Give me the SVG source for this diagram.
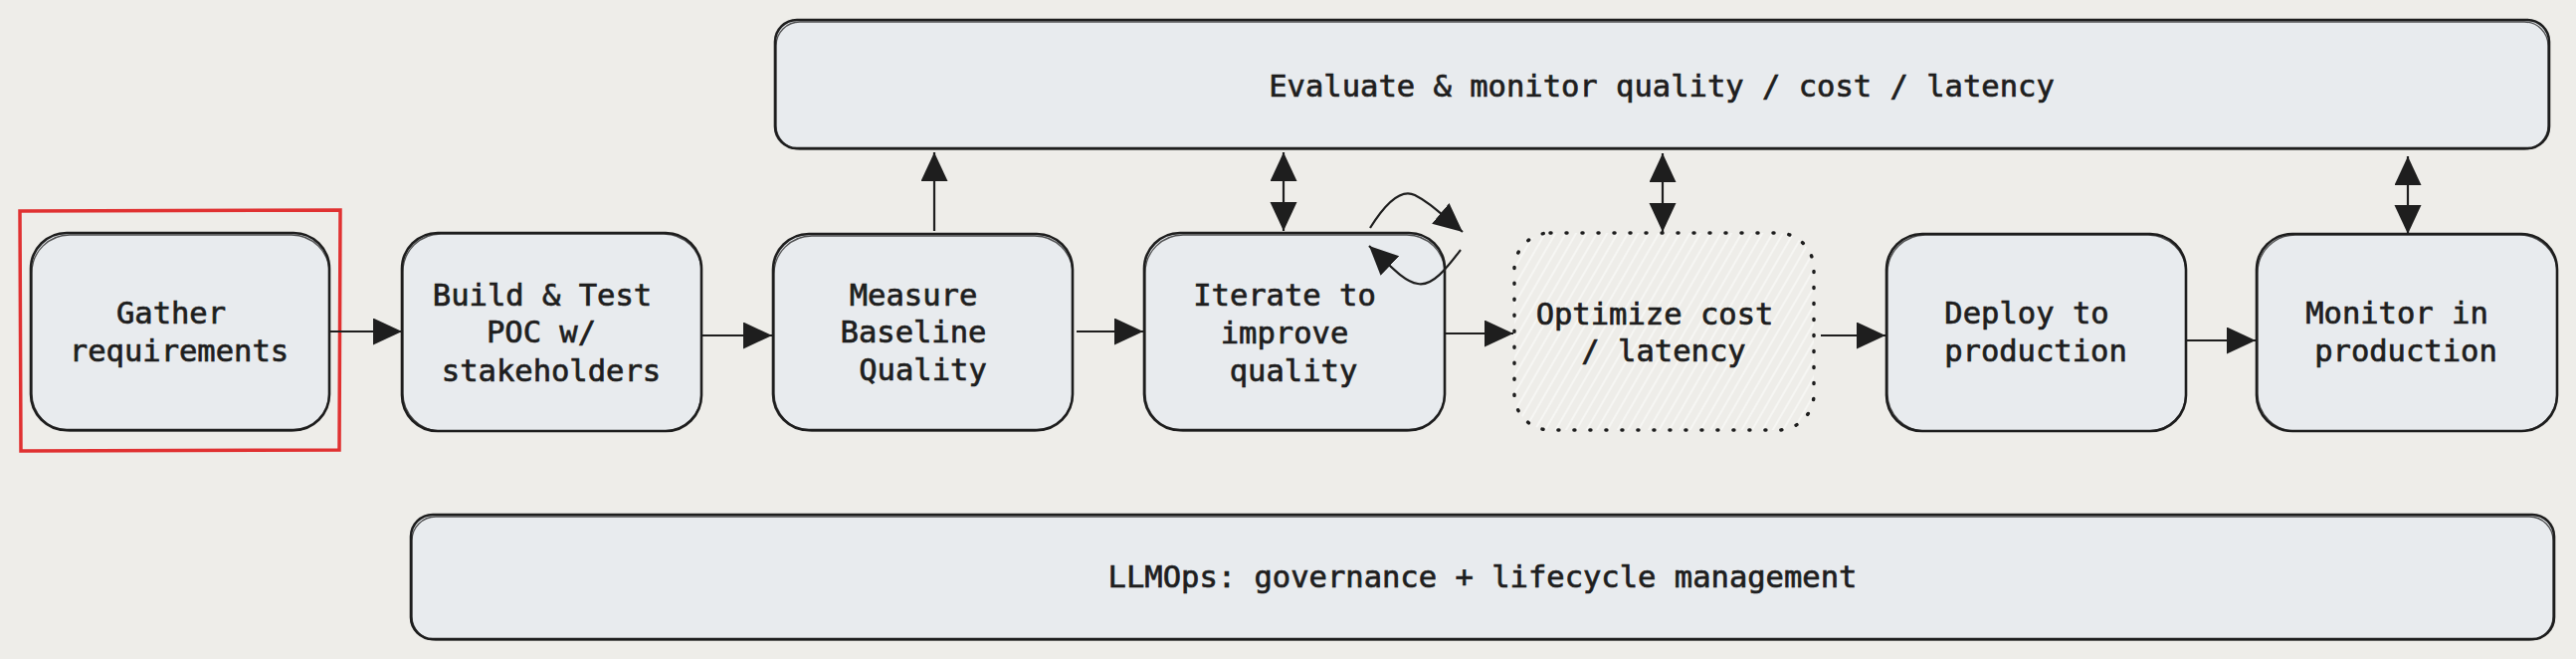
<svg xmlns="http://www.w3.org/2000/svg" width="2589" height="662" viewBox="0 0 2589 662">
<defs>
<style>
.box{fill:#e8ebee;stroke:#1e1e1e;stroke-width:2.6}
.box2{fill:none;stroke:#1e1e1e;stroke-width:1.3;opacity:0.75}
.lbl{font-family:"DejaVu Sans Mono","Liberation Mono",monospace;font-size:30.5px;fill:#1e1e1e;stroke:#1e1e1e;stroke-width:0.7;text-anchor:middle}
.ln{fill:none;stroke:#1e1e1e;stroke-width:2.2}
.arr{marker-end:url(#ah)}
.arr2{marker-start:url(#ahs);marker-end:url(#ah)}
</style>
<marker id="ah" markerUnits="userSpaceOnUse" markerWidth="30" markerHeight="28" refX="29" refY="13.5" orient="auto" viewBox="0 0 30 28">
<path d="M0,0 L29,13.5 L0,27 z" fill="#1e1e1e"/>
</marker>
<marker id="ahs" markerUnits="userSpaceOnUse" markerWidth="30" markerHeight="28" refX="29" refY="13.5" orient="auto-start-reverse" viewBox="0 0 30 28">
<path d="M0,0 L29,13.5 L0,27 z" fill="#1e1e1e"/>
</marker>
<pattern id="hatch" patternUnits="userSpaceOnUse" width="9" height="9" patternTransform="rotate(30)">
<line x1="4" y1="0" x2="4" y2="9" stroke="#fbfbf9" stroke-width="1.3"/>
</pattern>
</defs>
<rect x="0" y="0" width="2589" height="662" fill="#eeede9"/>

<g id="evaluate">
<rect class="box" x="779" y="20" width="1783" height="129" rx="22"/>
<rect class="box2" x="780" y="22" width="1781" height="128" rx="24"/>
<text class="lbl" x="1670" y="97">Evaluate &amp; monitor quality / cost / latency</text>
</g>

<g id="llmops">
<rect class="box" x="413" y="517" width="2154" height="125" rx="22"/>
<rect class="box2" x="414" y="519" width="2152" height="124" rx="24"/>
<text class="lbl" x="1490" y="590">LLMOps: governance + lifecycle management</text>
</g>

<g id="highlight">
<path d="M20,212 L342,211 L341,452 L21,453 Z" fill="none" stroke="#e03131" stroke-width="3.5"/>
</g>

<g id="gather">
<rect class="box" x="31" y="234" width="300" height="198" rx="36"/>
<rect class="box2" x="32" y="236" width="299" height="197" rx="38"/>
<text class="lbl" x="172" y="325">Gather</text>
<text class="lbl" x="180" y="363">requirements</text>
</g>

<g id="build">
<rect class="box" x="404" y="234" width="301" height="199" rx="36"/>
<rect class="box2" x="405" y="235" width="300" height="198" rx="38"/>
<text class="lbl" x="545" y="307">Build &amp; Test</text>
<text class="lbl" x="544" y="344">POC w/</text>
<text class="lbl" x="554" y="383">stakeholders</text>
</g>

<g id="measure">
<rect class="box" x="777" y="235" width="301" height="197" rx="36"/>
<rect class="box2" x="778" y="237" width="300" height="196" rx="38"/>
<text class="lbl" x="918" y="307">Measure</text>
<text class="lbl" x="918" y="344">Baseline</text>
<text class="lbl" x="927.5" y="382">Quality</text>
</g>

<g id="iterate">
<rect class="box" x="1150" y="234" width="302" height="198" rx="36"/>
<rect class="box2" x="1151" y="236" width="301" height="197" rx="38"/>
<text class="lbl" x="1291" y="307">Iterate to</text>
<text class="lbl" x="1291" y="345">improve</text>
<text class="lbl" x="1300" y="383">quality</text>
</g>

<g id="optimize">
<rect x="1522" y="234" width="301" height="198" rx="36" fill="url(#hatch)" stroke="#1e1e1e" stroke-width="3.5" stroke-dasharray="1 15" stroke-linecap="round"/>
<text class="lbl" x="1663" y="326">Optimize cost</text>
<text class="lbl" x="1672" y="363">/ latency</text>
</g>

<g id="deploy">
<rect class="box" x="1896" y="235" width="301" height="198" rx="36"/>
<rect class="box2" x="1897" y="236" width="300" height="197" rx="38"/>
<text class="lbl" x="2037" y="325">Deploy to</text>
<text class="lbl" x="2046" y="363">production</text>
</g>

<g id="monitor">
<rect class="box" x="2268" y="235" width="302" height="198" rx="36"/>
<rect class="box2" x="2269" y="236" width="301" height="197" rx="38"/>
<text class="lbl" x="2409" y="325">Monitor in</text>
<text class="lbl" x="2418" y="363">production</text>
</g>

<g id="connectors">
<line class="ln arr" x1="332" y1="333" x2="404" y2="333"/>
<line class="ln arr" x1="706" y1="337" x2="776" y2="337"/>
<line class="ln arr" x1="1082" y1="333" x2="1149" y2="333"/>
<line class="ln arr" x1="1453" y1="335" x2="1521" y2="335"/>
<line class="ln arr" x1="1830" y1="337" x2="1895" y2="337"/>
<line class="ln arr" x1="2198" y1="342" x2="2267" y2="342"/>
<line class="ln arr" x1="939" y1="232" x2="939" y2="153"/>
<line class="ln arr2" x1="1290" y1="153" x2="1290" y2="232"/>
<line class="ln arr2" x1="1671" y1="154" x2="1671" y2="233"/>
<line class="ln arr2" x1="2420" y1="157" x2="2420" y2="235"/>
<path class="ln arr" d="M1377,229 C1395,200 1410,190 1422,196 C1436,203 1445,212 1470,233"/>
<path class="ln arr" d="M1468,251 C1455,268 1440,288 1425,285 C1412,283 1400,270 1376,247"/>
</g>
</svg>
